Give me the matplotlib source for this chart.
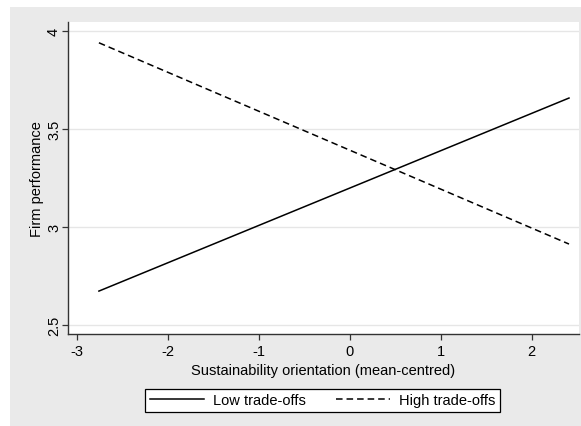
import matplotlib.pyplot as plt
from matplotlib.patches import Rectangle

plt.rcParams['font.family'] = ['Liberation Sans', 'DejaVu Sans']

# predicted values at the ends of the observed range
x_vals = [-2.76, 2.41]
low_tradeoffs = [2.673, 3.658]
high_tradeoffs = [3.940, 2.913]

xticks = [-3, -2, -1, 0, 1, 2]
yticks = [2.5, 3, 3.5, 4]
yticklabels = ['2.5', '3', '3.5', '4']

fig = plt.figure(figsize=(5.81, 4.27), dpi=100)
fig.patch.set_facecolor('white')
fig.patches.append(Rectangle((10/581, 0), 1 - 10/581, 1 - 8/427,
                             transform=fig.transFigure, facecolor='#eaeaea',
                             edgecolor='none', zorder=-10))

ax = fig.add_axes([68/581, 1 - 335/427, (579 - 68)/581, (335 - 23)/427])
ax.set_facecolor('white')

ax.plot(x_vals, low_tradeoffs, color='black', lw=1.1, label='Low trade-offs')
ax.plot(x_vals, high_tradeoffs, color='black', lw=1.1, dashes=(4.3, 2.6),
        label='High trade-offs')

ax.set_xlim(-3.1, 2.52)
ax.set_ylim(2.454, 4.046)
ax.set_xticks(xticks)
ax.set_xticklabels([str(t) for t in xticks])
ax.set_yticks(yticks)
ax.set_yticklabels(yticklabels, rotation=90, va='center')
ax.yaxis.grid(True, color='#e6e6e6', lw=1.0)
ax.set_axisbelow(True)

for s in ['top', 'right']:
    ax.spines[s].set_visible(False)
for s in ['left', 'bottom']:
    ax.spines[s].set_color('#333333')
    ax.spines[s].set_linewidth(1.0)
ax.tick_params(direction='out', length=4, width=0.9, color='#333333',
               labelsize=10.5)
ax.tick_params(axis='y', pad=1)
ax.tick_params(axis='x', pad=3.5)

ax.set_xlabel('Sustainability orientation (mean-centred)', fontsize=10.5, labelpad=3)
ax.set_ylabel('Firm performance', fontsize=10.5, labelpad=2)

leg = fig.legend(loc='center', bbox_to_anchor=(322.5/581, 1 - 401.5/427), ncol=2,
                 fontsize=10.5, fancybox=False, edgecolor='black', framealpha=1,
                 handlelength=3.7, handletextpad=0.6, columnspacing=2.1,
                 borderpad=0.3, borderaxespad=0)
leg.get_frame().set_linewidth(0.9)

plt.savefig('out.png', dpi=100, facecolor=fig.get_facecolor())
